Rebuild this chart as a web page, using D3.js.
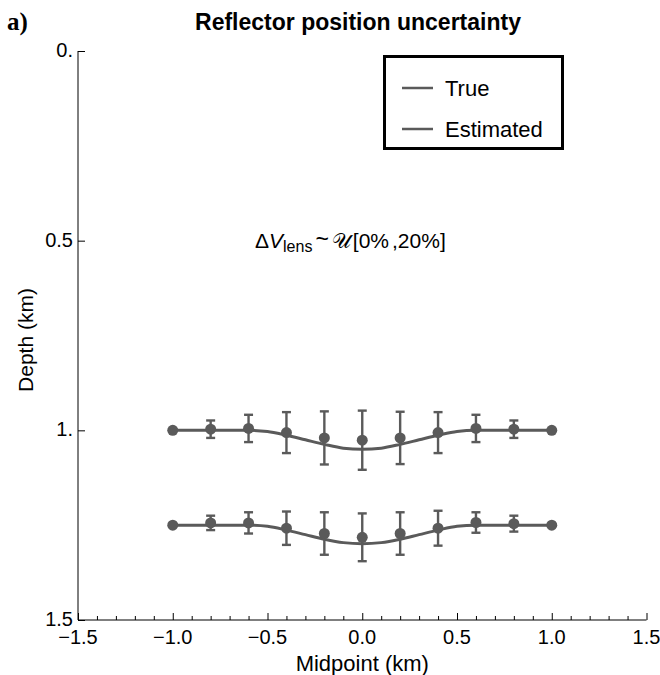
<!DOCTYPE html>
<html>
<head>
<meta charset="utf-8">
<script src="https://cdnjs.cloudflare.com/ajax/libs/d3/7.8.5/d3.min.js"></script>
<style>
  body { margin: 0; background: #fff; }
  svg { display: block; }
  text { font-family: "Liberation Sans", Arial, sans-serif; }
</style>
</head>
<body>
<div id="chart"></div>
<script>
// midpoints where the estimated depths are plotted
var midpoints = [-1.0, -0.8, -0.6, -0.4, -0.2, 0.0, 0.2, 0.4, 0.6, 0.8, 1.0];

// estimated depths (km) and error bar half-widths, upper reflector
var estUpper = [1.000, 0.997, 0.995, 1.006, 1.020, 1.026, 1.020, 1.006, 0.995, 0.997, 1.000];
var errUpper = [0.000, 0.023, 0.036, 0.054, 0.070, 0.078, 0.069, 0.054, 0.036, 0.023, 0.000];

// estimated depths (km) and error bar half-widths, lower reflector
var estLower = [1.250, 1.244, 1.244, 1.258, 1.272, 1.282, 1.272, 1.258, 1.243, 1.246, 1.250];
var errLower = [0.000, 0.019, 0.028, 0.044, 0.056, 0.063, 0.056, 0.046, 0.027, 0.021, 0.000];

// true reflector depths, sampled every 0.1 km
var trueX = [-1.0, -0.9, -0.8, -0.7, -0.6, -0.5, -0.4, -0.3, -0.2, -0.1, 0.0,
             0.1, 0.2, 0.3, 0.4, 0.5, 0.6, 0.7, 0.8, 0.9, 1.0];
var trueUpper = [1.0, 1.0, 1.0, 1.0, 1.0, 1.003, 1.013, 1.025, 1.037, 1.047, 1.05,
                 1.047, 1.037, 1.025, 1.013, 1.003, 1.0, 1.0, 1.0, 1.0, 1.0];
var trueLower = [1.25, 1.25, 1.25, 1.25, 1.25, 1.253, 1.263, 1.275, 1.287, 1.296, 1.299,
                 1.296, 1.287, 1.275, 1.263, 1.253, 1.25, 1.25, 1.25, 1.25, 1.25];

var xMajor = [-1.5, -1.0, -0.5, 0.0, 0.5, 1.0, 1.5];
var xMajorLabels = ["\u22121.5", "\u22121.0", "\u22120.5", "0.0", "0.5", "1.0", "1.5"];
var yMajor = [0, 0.5, 1.0, 1.5];
var yMajorLabels = ["0.", "0.5", "1.", "1.5"];

var legendLabels = ["True", "Estimated"];

var grey = "#5a5a5a";
var width = 660, height = 675;
var margin = {left: 78, top: 51};
var plotW = 568.5, plotH = 569;

var svg = d3.select("#chart")
    .append("svg")
    .attr("width", width)
    .attr("height", height);

var x = d3.scaleLinear().domain([-1.5, 1.5]).range([margin.left, margin.left + plotW]);
var y = d3.scaleLinear().domain([0, 1.5]).range([margin.top, margin.top + plotH]);

// Title and panel letter
svg.append("text")
    .attr("x", 7).attr("y", 30)
    .style("font-family", "'Liberation Serif', serif")
    .style("font-weight", "bold")
    .style("font-size", "25px")
    .text("a)");

svg.append("text")
    .attr("x", 358).attr("y", 30)
    .attr("text-anchor", "middle")
    .style("font-weight", "bold")
    .style("font-size", "23px")
    .text("Reflector position uncertainty");

// X axis with minor ticks pointing inside
var xAxis = d3.axisTop(x)
    .tickValues(d3.range(-15, 16).map(function (d) { return d / 10; }))
    .tickSize(4)
    .tickFormat("");
var gx = svg.append("g")
    .attr("transform", "translate(0," + y(1.5) + ")")
    .call(xAxis);
gx.selectAll(".tick line")
    .attr("y2", function (d) {
        return xMajor.some(function (m) { return Math.abs(m - d) < 1e-9; }) ? -7 : -4;
    });
gx.select(".domain").attr("d", "M" + x(-1.5) + ",0H" + x(1.5));

gx.selectAll(".major-label")
    .data(xMajor)
    .enter()
    .append("text")
    .attr("x", function (d) { return x(d); })
    .attr("y", 24)
    .attr("text-anchor", "middle")
    .attr("fill", "black")
    .style("font-size", "20px")
    .text(function (d, i) { return xMajorLabels[i]; });

// Y axis, ticks inside
var yAxis = d3.axisRight(y)
    .tickValues(yMajor)
    .tickSize(7)
    .tickFormat("");
var gy = svg.append("g")
    .attr("transform", "translate(" + x(-1.5) + ",0)")
    .call(yAxis);
gy.select(".domain").attr("d", "M0," + y(0) + "V" + y(1.5));

gy.selectAll(".major-label")
    .data(yMajor)
    .enter()
    .append("text")
    .attr("x", -5)
    .attr("y", function (d) { return y(d) + 6; })
    .attr("text-anchor", "end")
    .attr("fill", "black")
    .style("font-size", "20px")
    .text(function (d, i) { return yMajorLabels[i]; });

// Axis labels
svg.append("text")
    .attr("x", x(0))
    .attr("y", 671)
    .attr("text-anchor", "middle")
    .style("font-size", "22px")
    .text("Midpoint (km)");

svg.append("text")
    .attr("transform", "rotate(-90)")
    .attr("x", -340)
    .attr("y", 33)
    .attr("text-anchor", "middle")
    .style("font-size", "21px")
    .text("Depth (km)");

// True reflectors
var line = d3.line()
    .x(function (d) { return x(d[0]); })
    .y(function (d) { return y(d[1]); })
    .curve(d3.curveMonotoneX);

[trueUpper, trueLower].forEach(function (depths) {
    svg.append("path")
        .datum(trueX.map(function (v, i) { return [v, depths[i]]; }))
        .attr("fill", "none")
        .attr("stroke", grey)
        .attr("stroke-width", 3)
        .attr("d", line);
});

// Estimated points with error bars
[[estUpper, errUpper], [estLower, errLower]].forEach(function (s) {
    var pts = midpoints.map(function (m, i) { return {m: m, d: s[0][i], e: s[1][i]}; });
    var g = svg.append("g").attr("stroke", grey).attr("fill", grey);
    var bars = pts.filter(function (p) { return p.e > 0; });
    g.selectAll("line.bar")
        .data(bars)
        .enter()
        .append("line")
        .attr("x1", function (p) { return x(p.m); })
        .attr("x2", function (p) { return x(p.m); })
        .attr("y1", function (p) { return y(p.d - p.e); })
        .attr("y2", function (p) { return y(p.d + p.e); })
        .attr("stroke-width", 2.4);
    g.selectAll("line.capTop")
        .data(bars)
        .enter()
        .append("line")
        .attr("x1", function (p) { return x(p.m) - 4.5; })
        .attr("x2", function (p) { return x(p.m) + 4.5; })
        .attr("y1", function (p) { return y(p.d - p.e); })
        .attr("y2", function (p) { return y(p.d - p.e); })
        .attr("stroke-width", 2.4);
    g.selectAll("line.capBottom")
        .data(bars)
        .enter()
        .append("line")
        .attr("x1", function (p) { return x(p.m) - 4.5; })
        .attr("x2", function (p) { return x(p.m) + 4.5; })
        .attr("y1", function (p) { return y(p.d + p.e); })
        .attr("y2", function (p) { return y(p.d + p.e); })
        .attr("stroke-width", 2.4);
    g.selectAll("circle")
        .data(pts)
        .enter()
        .append("circle")
        .attr("cx", function (p) { return x(p.m); })
        .attr("cy", function (p) { return y(p.d); })
        .attr("r", 5.5)
        .attr("stroke", "none");
});

// Annotation
var ann = svg.append("text")
    .attr("x", 255)
    .attr("y", 248)
    .style("font-size", "21px");
ann.append("tspan").text("\u0394");
ann.append("tspan").style("font-style", "italic").text("V");
ann.append("tspan").attr("dy", 4).style("font-size", "16px").text("lens");
ann.append("tspan").attr("dy", -5).attr("dx", 3).style("font-size", "23px").text("~");
ann.append("tspan").attr("dy", 1).attr("dx", 3).text("\uD835\uDCB0");
ann.append("tspan").attr("dx", 2).text("[0%");
ann.append("tspan").attr("dx", 3).text(",20%]");

// Legend
var legend = svg.append("g");
legend.append("rect")
    .attr("x", 384.5).attr("y", 56.5)
    .attr("width", 178).attr("height", 92)
    .attr("fill", "white")
    .attr("stroke", "black")
    .attr("stroke-width", 3);
legend.selectAll("line")
    .data(legendLabels)
    .enter()
    .append("line")
    .attr("x1", 402).attr("x2", 433)
    .attr("y1", function (d, i) { return 88 + i * 41; })
    .attr("y2", function (d, i) { return 88 + i * 41; })
    .attr("stroke", grey)
    .attr("stroke-width", 2.5);
legend.selectAll("text")
    .data(legendLabels)
    .enter()
    .append("text")
    .attr("x", 445)
    .attr("y", function (d, i) { return 96 + i * 41; })
    .style("font-size", "22px")
    .text(function (d) { return d; });
</script>
</body>
</html>
